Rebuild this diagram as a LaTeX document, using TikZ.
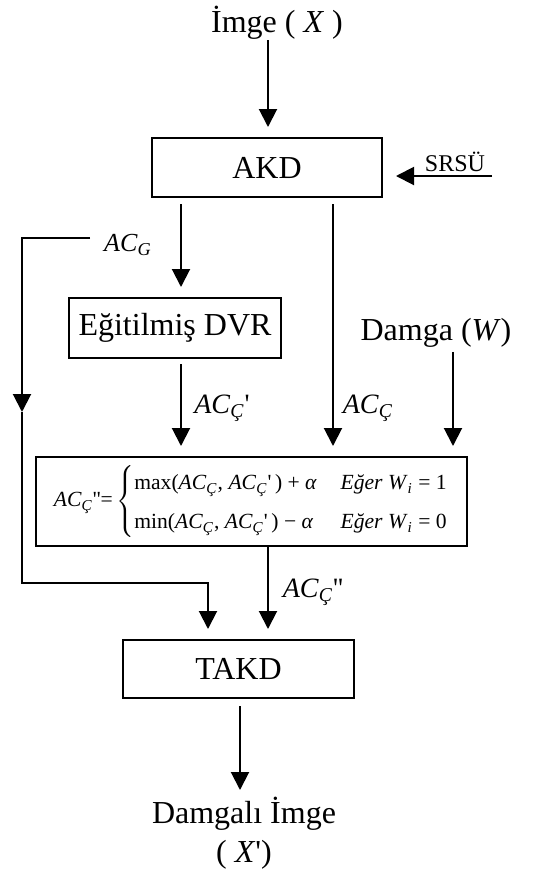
\documentclass[tikz,border=0pt]{standalone}
\usepackage{fontspec}
\setmainfont{Liberation Serif}
\usetikzlibrary{arrows.meta, positioning}
\newcommand{\acsub}[1]{\textit{AC}\textsubscript{\textit{#1}}}
\newcommand{\qs}{\textquotesingle}

\begin{document}
\begin{tikzpicture}[x=0.5pt, y=-0.5pt, font=\fontsize{16}{19.5}\selectfont,
    box/.style={draw, line width=1pt, inner sep=0pt},
    arr/.style={-{Triangle[width=9pt,length=9pt]}, line width=1pt, shorten >=5pt},
    lbl/.style={font=\fontsize{14}{16}\selectfont, inner sep=0pt}]
    \useasboundingbox (0,0) rectangle (537,869);
    % columns of the vertical arrows
    \coordinate (xa) at (181,0);
    \coordinate (xb) at (333,0);
    \coordinate (xw) at (453,0);
    \coordinate (xm) at (268,0);
    \coordinate (xt) at (208,0);
    \coordinate (xo) at (240,0);

    \node[inner sep=2pt] (img) at (277,23) {İmge ( \textit{X} )};
    \node[box, minimum width=115pt, minimum height=29.5pt] (akd) at (267,167.5) {AKD};
    \node[font=\fontsize{12}{14}\selectfont, inner sep=0pt, anchor=base] (srsu) at (455,171) {SRSÜ};
    \coordinate (srsuin) at (492,176);
    \node[lbl, font=\fontsize{13}{15}\selectfont] (acg) at (128,245) {\textit{AC}\textsubscript{\textit{G}}};
    \coordinate (gstart) at (90,238);
    \coordinate (gmid) at (22,412);
    \coordinate (gbot) at (22,583);
    \node[box, minimum width=106pt, minimum height=30pt] (dvr) at (175,328) {Eğitilmiş DVR};
    \node[inner sep=2pt] (dmg) at (436,333) {Damga (\textit{W})};
    \node[lbl] (acc1) at (222,408) {\acsub{Ç}\qs};
    \node[lbl] (acc0) at (368,408) {\acsub{Ç}};
    \node[box, minimum width=215.5pt, minimum height=44.5pt, font=\fontsize{10.8}{13}\selectfont] (frm) at (251.5,501.5)
        {\acsub{Ç}\qs\qs=\,$\left\{\renewcommand{\arraystretch}{1.5}\begin{tabular}{@{}l@{\hspace{1.1em}}l@{}}
        max(\acsub{Ç}, \acsub{Ç}\qs\,) + \textit{α} & \textit{Eğer W}\textsubscript{\textit{i}} = 1\\
        min(\acsub{Ç}, \acsub{Ç}\qs\,) − \textit{α} & \textit{Eğer W}\textsubscript{\textit{i}} = 0
        \end{tabular}\right.$};
    \node[lbl] (acc2) at (313,592) {\acsub{Ç}\qs\qs};
    \node[box, minimum width=115.5pt, minimum height=29pt] (takd) at (238.5,669) {TAKD};
    \node[align=center, inner sep=0pt, anchor=north] (out) at (244,797) {Damgalı İmge\\( \textit{X}\qs)};

    \draw[arr, shorten <=-2pt] (img.south -| xm) -- (akd.north -| xm);
    \draw[arr, shorten >=6.5pt] (srsuin) -- (akd.east |- srsuin);
    \draw[arr, shorten <=3pt] (akd.south -| xa) -- (dvr.north -| xa);
    \draw[arr, shorten <=3pt] (akd.south -| xb) -- (frm.north -| xb);
    \draw[arr, shorten >=0pt] (gstart) -| (gmid);
    \draw[arr] (gmid) -- (gbot) -| (takd.north -| xt);
    \draw[arr, shorten <=2.5pt] (dvr.south -| xa) -- (frm.north -| xa);
    \draw[arr] (dmg.south -| xw) -- (frm.north -| xw);
    \draw[arr] (frm.south -| xm) -- (takd.north -| xm);
    \draw[arr, shorten <=3.5pt, shorten >=3.5pt] (takd.south -| xo) -- (out.north -| xo);
\end{tikzpicture}
\end{document}
